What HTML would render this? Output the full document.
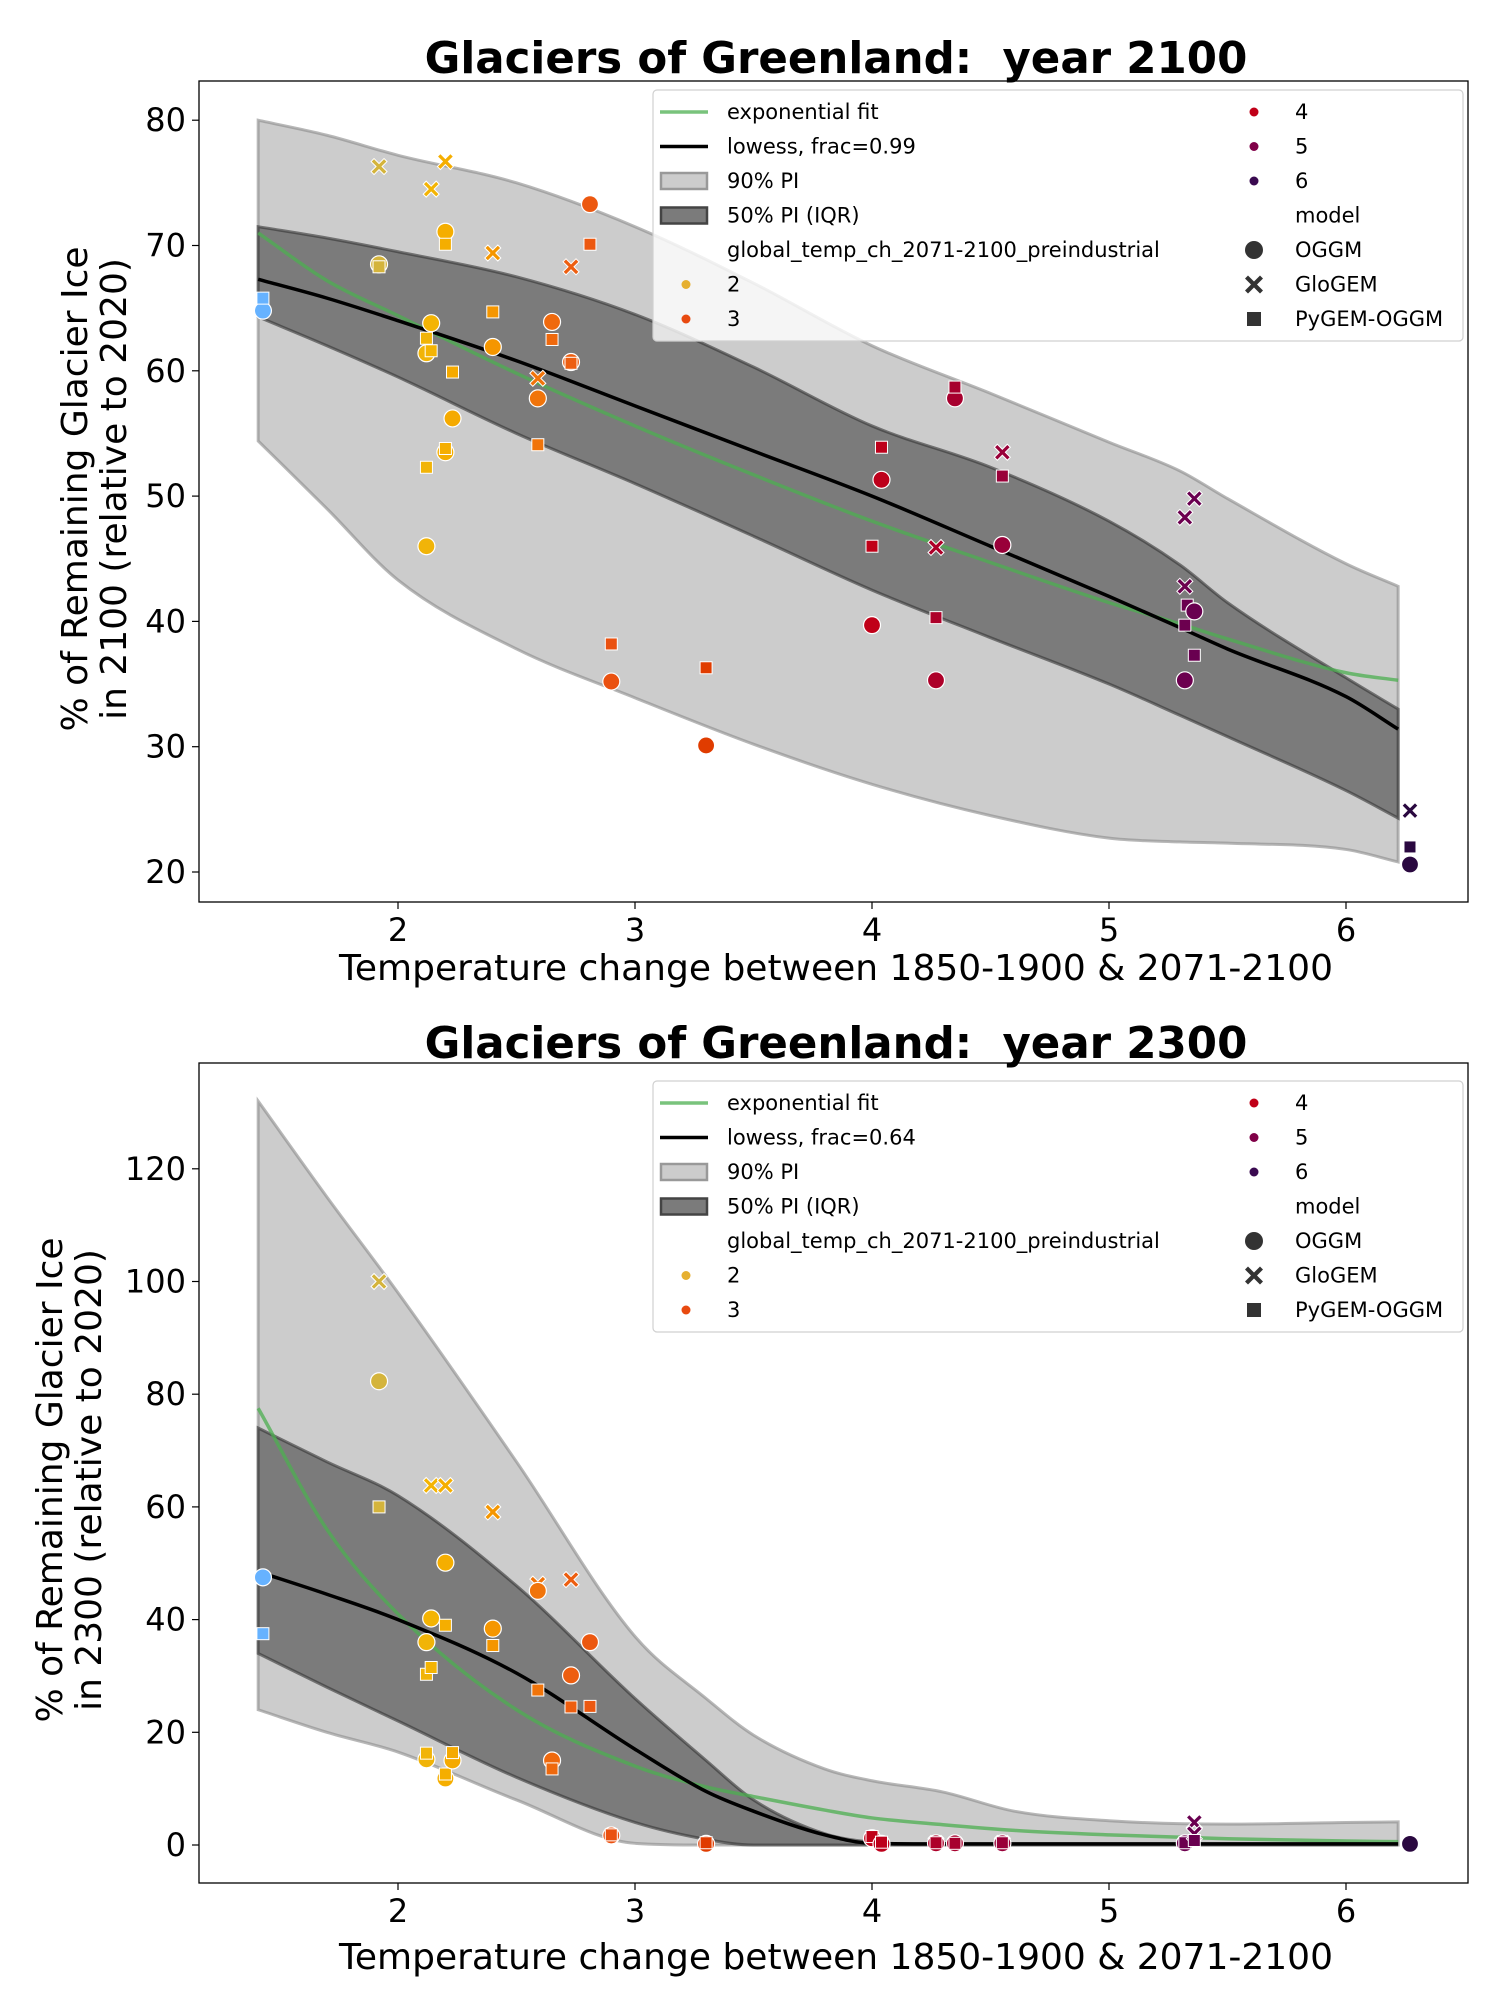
<!DOCTYPE html>
<html><head><meta charset="utf-8">
<style>
html,body{margin:0;padding:0;background:#fff;}
svg{display:block;font-family:"DejaVu Sans","Liberation Sans",sans-serif;}
</style></head>
<body>
<svg id="fig" width="1500" height="2000" viewBox="0 0 1500 2000" xmlns="http://www.w3.org/2000/svg"></svg>
<script>
// ---------- data: year 2100 ----------
const top_temp  = [1.43,1.43,1.92,1.92,1.92,2.14,2.14,2.12,2.12,2.14,2.12,2.12,2.2,2.2,2.2,2.2,2.2,2.23,2.23,2.4,2.4,2.4,2.59,2.59,2.59,2.65,2.65,2.73,2.73,2.73,2.81,2.81,2.9,2.9,3.3,3.3,4.0,4.0,4.04,4.04,4.27,4.27,4.27,4.35,4.35,4.55,4.55,4.55,5.32,5.32,5.32,5.32,5.33,5.36,5.36,5.36,6.27,6.27,6.27];
const top_value = [64.8,65.8,76.3,68.5,68.3,74.5,63.8,61.4,62.6,61.6,46.0,52.3,76.7,71.1,70.1,53.5,53.8,56.2,59.9,69.4,64.7,61.9,59.4,57.8,54.1,63.9,62.5,68.3,60.7,60.6,73.3,70.1,35.2,38.2,30.1,36.3,39.7,46.0,51.3,53.9,45.9,35.3,40.3,57.8,58.7,53.5,46.1,51.6,42.8,48.3,35.3,39.7,41.3,49.8,40.8,37.3,24.9,22.0,20.6];
const top_model = ["O","P","G","O","P","G","O","O","P","P","O","P","G","O","P","O","P","O","P","G","P","O","G","O","P","O","P","G","O","P","O","P","O","P","O","P","O","P","O","P","G","O","P","O","P","G","O","P","G","G","O","P","P","G","O","P","G","P","O"];
const top_band_x   = [1.41,1.7,2.0,2.5,3.0,3.5,4.0,4.5,5.0,5.3,5.5,6.0,6.22];
const top_pi90_hi  = [80,78.8,77.2,75,71.5,67,62,58.2,54.3,52.0,49.8,44.6,42.8];
const top_pi90_lo  = [54.4,49,43.3,37.8,33.9,30.2,27.0,24.5,22.7,22.4,22.3,21.8,20.8];
const top_pi50_hi  = [71.5,70.6,69.5,67.5,64.5,60.3,55.6,52.3,48.0,44.5,41.5,35.5,33.0];
const top_pi50_lo  = [64.3,62,59.5,55,51,46.8,42.5,38.7,35.0,32.5,30.8,26.5,24.3];
const top_lowess   = [67.3,65.8,64,60.8,57.2,53.6,50,46,42,39.5,37.8,34,31.4];
const top_expfit   = [71,67.2,64.4,59.8,55.6,51.7,48.0,44.7,41.5,39.8,38.6,35.9,35.3];
const top_yticks   = [20,30,40,50,60,70,80];

// ---------- data: year 2300 ----------
const bot_temp  = [1.43,1.43,1.92,1.92,1.92,2.12,2.12,2.12,2.12,2.14,2.14,2.14,2.2,2.2,2.2,2.2,2.2,2.23,2.23,2.4,2.4,2.4,2.59,2.59,2.59,2.65,2.65,2.73,2.73,2.73,2.81,2.81,2.9,2.9,3.3,3.3,4.0,4.0,4.04,4.04,4.27,4.27,4.27,4.35,4.35,4.55,4.55,4.55,5.32,5.32,5.36,5.36,5.36,6.27,6.27,6.27];
const bot_value = [47.5,37.5,100,82.3,60,36,30.3,15.2,16.3,63.8,40.2,31.5,63.8,50.1,39.0,11.8,12.6,15.0,16.4,59.1,38.4,35.4,46.3,45.1,27.5,15.0,13.5,47.1,30.1,24.5,36.0,24.6,1.7,1.8,0.2,0.4,1.2,1.5,0.2,0.5,0.3,0.3,0.4,0.3,0.3,0.3,0.3,0.4,0.3,0.4,4.0,2.0,0.8,0.2,0.2,0.2];
const bot_model = ["O","P","G","O","P","O","P","O","P","G","O","P","G","O","P","O","P","O","P","G","O","P","G","O","P","O","P","G","O","P","O","P","O","P","O","P","O","P","O","P","G","O","P","O","P","G","O","P","O","P","G","G","P","G","P","O"];
const bot_band_x   = [1.41,1.7,2.0,2.5,3.0,3.3,3.5,3.8,4.0,4.3,4.6,5.0,5.5,6.0,6.22];
const bot_pi90_hi  = [132,115,98,68,37,26,19.5,13.5,11.4,9.4,6,4.3,3.7,4.0,4.1];
const bot_pi90_lo  = [24,20,16.5,8,0.3,0,0,0,0,0,0,0,0,0,0];
const bot_pi50_hi  = [74,68,62,46,26,15,8,2,0.5,0,0,0,0,0,0];
const bot_pi50_lo  = [34,28,22,12,4,1,0,0,0,0,0,0,0,0,0];
const bot_lowess   = [48.5,44.5,40,30.5,17,9.5,6,1.8,0.3,0.2,0.2,0.2,0.2,0.2,0.2];
const bot_expfit   = [77.5,56,41,24,14,10.3,8.6,6.2,4.8,3.6,2.6,1.8,1.1,0.7,0.6];
const bot_yticks   = [0,20,40,60,80,100,120];

const xticks = [2,3,4,5,6];

const NS="http://www.w3.org/2000/svg";
const fig=document.getElementById('fig');
function mk(tag,attrs,parent){const e=document.createElementNS(NS,tag);for(const k in attrs)e.setAttribute(k,attrs[k]);(parent||fig).appendChild(e);return e;}

const colorStops=[[1.43,[102,178,255]],[1.92,[212,180,60]],[2.15,[245,180,0]],[2.4,[245,150,0]],[2.7,[238,96,16]],[3.0,[232,74,16]],[3.3,[224,60,0]],[4.0,[192,0,24]],[4.5,[156,0,56]],[5.35,[106,0,80]],[6.27,[42,8,64]]];
function tcolor(t){
  if(t<=colorStops[0][0])return 'rgb('+colorStops[0][1]+')';
  for(let i=1;i<colorStops.length;i++){const a=colorStops[i-1],b=colorStops[i];
    if(t<=b[0]){const f=(t-a[0])/(b[0]-a[0]);return 'rgb('+a[1].map((v,j)=>Math.round(v+(b[1][j]-v)*f)).join(',')+')';}}
  return 'rgb('+colorStops[colorStops.length-1][1]+')';
}
function monoSegs(pts){
  const n=pts.length,dx=[],m=[],t=new Array(n);
  for(let i=0;i<n-1;i++){dx[i]=pts[i+1][0]-pts[i][0];m[i]=(pts[i+1][1]-pts[i][1])/dx[i];}
  t[0]=m[0];t[n-1]=m[n-2];
  for(let i=1;i<n-1;i++){t[i]=(m[i-1]*m[i]<=0)?0:(m[i-1]+m[i])/2;}
  for(let i=0;i<n-1;i++){
    if(m[i]===0){t[i]=0;t[i+1]=0;continue;}
    const a=t[i]/m[i],b=t[i+1]/m[i],s=a*a+b*b;
    if(s>9){const k=3/Math.sqrt(s);t[i]=k*a*m[i];t[i+1]=k*b*m[i];}
  }
  const segs=[];
  for(let i=0;i<n-1;i++){const h=dx[i]/3;
    segs.push([[pts[i][0]+h,pts[i][1]+t[i]*h],[pts[i+1][0]-h,pts[i+1][1]-t[i+1]*h],pts[i+1]]);}
  return segs;
}
function smooth(pts){
  let d='M'+pts[0][0]+','+pts[0][1];
  monoSegs(pts).forEach(s=>{d+=' C'+s[0]+' '+s[1]+' '+s[2];});
  return d;
}
function smoothRev(pts){
  const segs=monoSegs(pts);let d=' L'+pts[pts.length-1][0]+','+pts[pts.length-1][1];
  for(let i=segs.length-1;i>=0;i--){d+=' C'+segs[i][1]+' '+segs[i][0]+' '+pts[i];}
  return d;
}

function panel(cfg){
  const L=199,R=1468,T=cfg.top,B=cfg.bottom;
  const sx=v=>398+(v-2)*237;
  const sy=v=>cfg.y0px-(v-cfg.y0)*cfg.ppu;
  const g=mk('g',{});
  
  
  const tt=mk('text',{x:836,y:cfg.titleY,'text-anchor':'middle','font-size':43.5,'font-weight':'bold','xml:space':'preserve',style:'white-space:pre'},g);tt.textContent=cfg.title;
  
  
  function band(hi,lo,fill,stroke,name){
    const up=cfg.bx.map((x,i)=>[sx(x),sy(hi[i])]);
    const dn=cfg.bx.map((x,i)=>[sx(x),sy(lo[i])]);
    const d=smooth(up)+smoothRev(dn)+' Z';
    const p=mk('path',{d:d,fill:fill,stroke:stroke,'stroke-width':3,'stroke-opacity':0.6},g);
    
    
  }
  band(cfg.p90h,cfg.p90l,'#cccccc','#888','pi90-band');
  band(cfg.p50h,cfg.p50l,'#7b7b7b','#333','pi50-band');
  const ex=mk('path',{d:smooth(cfg.bx.map((x,i)=>[sx(x),sy(cfg.exp[i])])),fill:'none',stroke:'#4caf50','stroke-opacity':0.75,'stroke-width':3.5},g);
  
  
  const lw=mk('path',{d:smooth(cfg.bx.map((x,i)=>[sx(x),sy(cfg.low[i])])),fill:'none',stroke:'#000','stroke-width':3.5},g);
  
  
  cfg.t.forEach((t,i)=>{
    const x=sx(t),y=sy(cfg.v[i]),c=tcolor(t),m=cfg.m[i];let e;
    if(m==='O')e=mk('circle',{cx:x,cy:y,r:8.5,fill:c,stroke:'#fff','stroke-width':1.2},g);
    else if(m==='P')e=mk('rect',{x:x-6,y:y-6,width:12,height:12,fill:c,stroke:'#fff','stroke-width':1},g);
    else e=mk('path',{d:`M${x-8},${y-5} L${x-5},${y-8} L${x},${y-3} L${x+5},${y-8} L${x+8},${y-5} L${x+3},${y} L${x+8},${y+5} L${x+5},${y+8} L${x},${y+3} L${x-5},${y+8} L${x-8},${y+5} L${x-3},${y} Z`,fill:c,stroke:'#fff','stroke-width':1},g);
    
    
  });
  const fr=mk('rect',{x:L,y:T,width:R-L,height:B-T,fill:'none',stroke:'#000','stroke-width':1.3},g);
  
  
  xticks.forEach(v=>{
    mk('line',{x1:sx(v),x2:sx(v),y1:B,y2:B+7,stroke:'#000','stroke-width':1.2},g);
    const t=mk('text',{x:sx(v),y:B+39,'text-anchor':'middle','font-size':32},g);t.textContent=v;
    
    
  });
  cfg.yt.forEach(v=>{
    mk('line',{x1:L-7,x2:L,y1:sy(v),y2:sy(v),stroke:'#000','stroke-width':1.2},g);
    const t=mk('text',{x:L-13,y:sy(v)+11,'text-anchor':'end','font-size':32},g);t.textContent=v;
    
    
  });
  const xl=mk('text',{x:836,y:cfg.xlabY,'text-anchor':'middle','font-size':36},g);xl.textContent='Temperature change between 1850-1900 & 2071-2100';
  
  
  const yl=mk('text',{transform:`translate(${cfg.ylabX},${cfg.ylabC}) rotate(-90)`,'text-anchor':'middle','font-size':36},g);
  const s1=mk('tspan',{x:0,y:0},yl);s1.textContent=cfg.ylab1;
  const s2=mk('tspan',{x:0,y:39},yl);s2.textContent=cfg.ylab2;
  
  
  const ly=cfg.legTop;
  const lg=mk('g',{},g);
  
  
  mk('rect',{x:653,y:ly,width:810,height:251,rx:4,fill:'#fff','fill-opacity':0.8,stroke:'#d0d0d0','stroke-width':1.2},lg);
  const rows=[0,1,2,3,4,5,6].map(i=>ly+22+i*34.5);
  function ltext(x,y,s){const t=mk('text',{x:x,y:y+7,'font-size':21},lg);t.textContent=s;}
  mk('line',{x1:660,x2:708,y1:rows[0],y2:rows[0],stroke:'#4caf50','stroke-opacity':0.75,'stroke-width':3.5},lg);ltext(727,rows[0],'exponential fit');
  mk('line',{x1:660,x2:708,y1:rows[1],y2:rows[1],stroke:'#000','stroke-width':3.5},lg);ltext(727,rows[1],cfg.lowLabel);
  mk('rect',{x:661,y:rows[2]-8,width:46,height:16,fill:'#cccccc',stroke:'#999','stroke-width':2.5},lg);ltext(727,rows[2],'90% PI');
  mk('rect',{x:661,y:rows[3]-8,width:46,height:16,fill:'#7b7b7b',stroke:'#444','stroke-width':2.5},lg);ltext(727,rows[3],'50% PI (IQR)');
  ltext(727,rows[4],'global_temp_ch_2071-2100_preindustrial');
  mk('circle',{cx:686,cy:rows[5],r:4.5,fill:'#e6b030'},lg);ltext(727,rows[5],'2');
  mk('circle',{cx:686,cy:rows[6],r:4.5,fill:'#e84a10'},lg);ltext(727,rows[6],'3');
  mk('circle',{cx:1254,cy:rows[0],r:4.5,fill:'#c00018'},lg);ltext(1295,rows[0],'4');
  mk('circle',{cx:1254,cy:rows[1],r:4.5,fill:'#800048'},lg);ltext(1295,rows[1],'5');
  mk('circle',{cx:1254,cy:rows[2],r:4.5,fill:'#3a0a50'},lg);ltext(1295,rows[2],'6');
  ltext(1295,rows[3],'model');
  mk('circle',{cx:1254,cy:rows[4],r:9,fill:'#333'},lg);ltext(1295,rows[4],'OGGM');
  const y5=rows[5],x5=1254;
  mk('path',{d:`M${x5-9},${y5-6} L${x5-6},${y5-9} L${x5},${y5-3} L${x5+6},${y5-9} L${x5+9},${y5-6} L${x5+3},${y5} L${x5+9},${y5+6} L${x5+6},${y5+9} L${x5},${y5+3} L${x5-6},${y5+9} L${x5-9},${y5+6} L${x5-3},${y5} Z`,fill:'#333'},lg);ltext(1295,rows[5],'GloGEM');
  mk('rect',{x:1247,y:rows[6]-7,width:14,height:14,fill:'#333'},lg);ltext(1295,rows[6],'PyGEM-OGGM');
}

panel({name:'chart-2100',title:'Glaciers of Greenland:  year 2100',titleY:73,top:81,bottom:902,y0:20,y0px:872,ppu:12.53,
  bx:top_band_x,p90h:top_pi90_hi,p90l:top_pi90_lo,p50h:top_pi50_hi,p50l:top_pi50_lo,low:top_lowess,exp:top_expfit,
  t:top_temp,v:top_value,m:top_model,yt:top_yticks,xlabY:980,ylabX:87,ylabC:489,ylab1:'% of Remaining Glacier Ice',ylab2:'in 2100 (relative to 2020)',
  legTop:90,lowLabel:'lowess, frac=0.99'});
panel({name:'chart-2300',title:'Glaciers of Greenland:  year 2300',titleY:1058,top:1063,bottom:1883,y0:0,y0px:1845,ppu:5.635,
  bx:bot_band_x,p90h:bot_pi90_hi,p90l:bot_pi90_lo,p50h:bot_pi50_hi,p50l:bot_pi50_lo,low:bot_lowess,exp:bot_expfit,
  t:bot_temp,v:bot_value,m:bot_model,yt:bot_yticks,xlabY:1969,ylabX:62,ylabC:1480,ylab1:'% of Remaining Glacier Ice',ylab2:'in 2300 (relative to 2020)',
  legTop:1081,lowLabel:'lowess, frac=0.64'});
</script>
</body></html>
